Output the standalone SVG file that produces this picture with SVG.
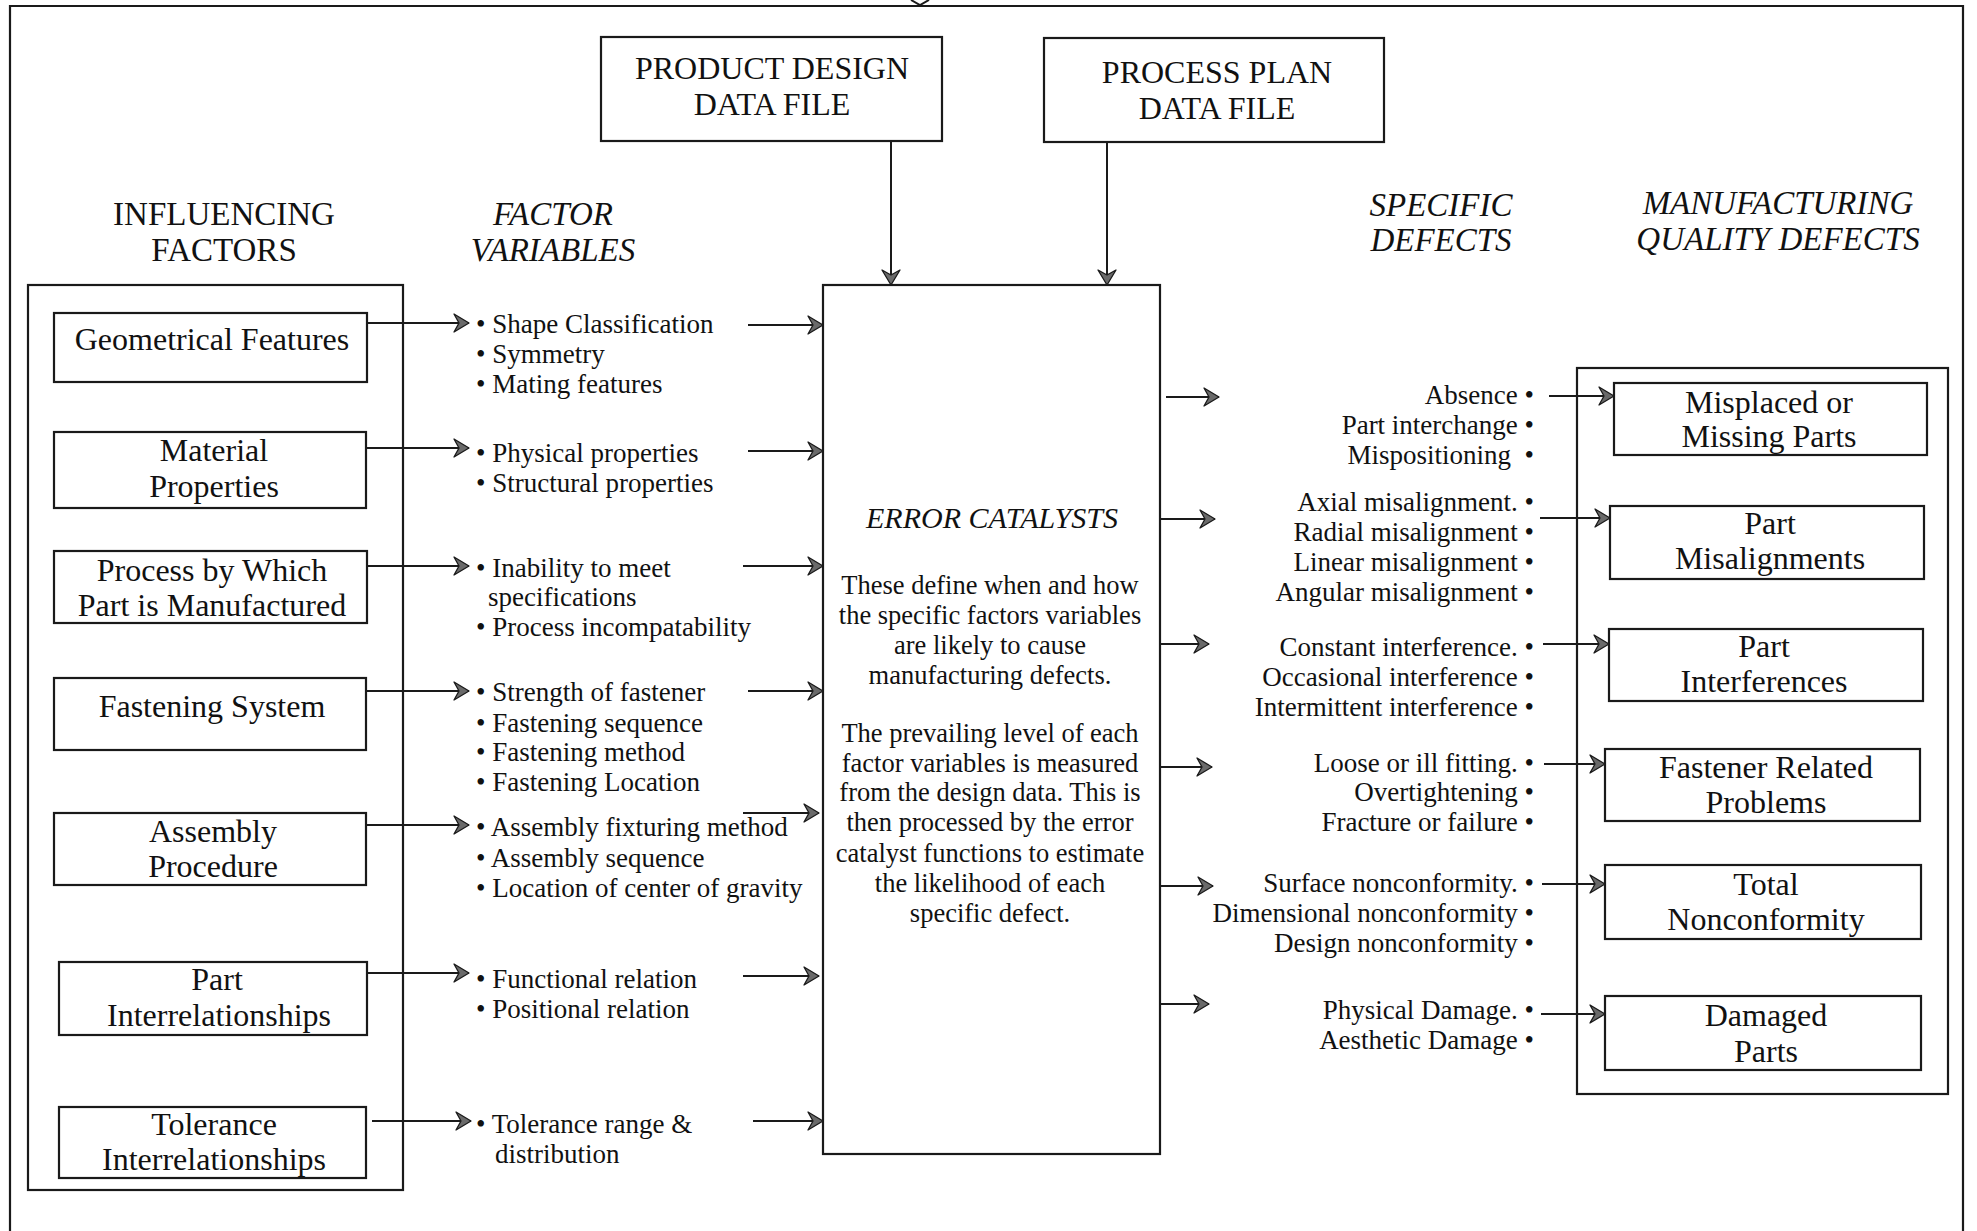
<svg xmlns="http://www.w3.org/2000/svg" width="1977" height="1231" viewBox="0 0 1977 1231">
<defs>
<style>
.box{fill:none;stroke:#1a1a1a;stroke-width:2.2}
.ln{fill:none;stroke:#1a1a1a;stroke-width:2;marker-end:url(#ah)}
text{font-family:"Liberation Serif","Times New Roman",serif;fill:#111}
.hd{font-size:33px;text-anchor:middle}
.hi{font-size:33px;text-anchor:middle;font-style:italic}
.lb{font-size:32px;text-anchor:middle}
.tx{font-size:27px}
.rt{font-size:27px;text-anchor:end;white-space:pre}
.ct{font-size:26.5px;text-anchor:middle}
</style>
<marker id="ah" markerUnits="userSpaceOnUse" markerWidth="20" markerHeight="22" refX="16" refY="10" orient="auto" viewBox="0 0 20 22">
<path d="M1,1 L16,10 L1,19 L6,10 Z" fill="#6a6a6a" stroke="#1a1a1a" stroke-width="1.3" stroke-linejoin="round"/>
</marker>
</defs>
<rect width="1977" height="1231" fill="#fff"/>
<g id="frame">
<path class="box" d="M10,1240 L10,6 L1963,6 L1963,1240"/>
<path d="M911,0 L920,5 L929,0" fill="none" stroke="#1a1a1a" stroke-width="2"/>
</g>
<g id="product-design">
<rect class="box" x="601" y="37" width="341" height="104"/>
<text class="hd" x="772" y="79" style="font-size:32px">PRODUCT DESIGN</text>
<text class="hd" x="772" y="115" style="font-size:32px">DATA FILE</text>
</g>
<g id="process-plan">
<rect class="box" x="1044" y="38" width="340" height="104"/>
<text class="hd" x="1217" y="83" style="font-size:32px">PROCESS PLAN</text>
<text class="hd" x="1217" y="119" style="font-size:32px">DATA FILE</text>
</g>
<g id="headers">
<text class="hd" x="224" y="225">INFLUENCING</text>
<text class="hd" x="224" y="261">FACTORS</text>
<text class="hi" x="553" y="225">FACTOR</text>
<text class="hi" x="553" y="261">VARIABLES</text>
<text class="hi" x="1441" y="216">SPECIFIC</text>
<text class="hi" x="1441" y="251">DEFECTS</text>
<text class="hi" x="1778" y="214">MANUFACTURING</text>
<text class="hi" x="1778" y="250">QUALITY DEFECTS</text>
</g>
<g id="influencing-factors">
<rect class="box" x="28" y="285" width="375" height="905"/>
<g id="geometrical-features"><rect class="box" x="54" y="313" width="313" height="69"/><text class="lb" x="212" y="350">Geometrical Features</text></g>
<g id="material-properties"><rect class="box" x="54" y="432" width="312" height="76"/><text class="lb" x="214" y="461">Material</text><text class="lb" x="214" y="497">Properties</text></g>
<g id="process-by-which"><rect class="box" x="54" y="551" width="313" height="72"/><text class="lb" x="212" y="581">Process by Which</text><text class="lb" x="212" y="616">Part is Manufactured</text></g>
<g id="fastening-system"><rect class="box" x="54" y="678" width="312" height="72"/><text class="lb" x="212" y="717">Fastening System</text></g>
<g id="assembly-procedure"><rect class="box" x="54" y="813" width="312" height="72"/><text class="lb" x="213" y="842">Assembly</text><text class="lb" x="213" y="877">Procedure</text></g>
<g id="part-interrelationships"><rect class="box" x="59" y="962" width="308" height="73"/><text class="lb" x="217" y="990">Part</text><text class="lb" x="219" y="1026">Interrelationships</text></g>
<g id="tolerance-interrelationships"><rect class="box" x="59" y="1107" width="307" height="71"/><text class="lb" x="214" y="1135">Tolerance</text><text class="lb" x="214" y="1170">Interrelationships</text></g>
</g>
<g id="factor-variables">
<text class="tx" x="476" y="333">• Shape Classification</text>
<text class="tx" x="476" y="363">• Symmetry</text>
<text class="tx" x="476" y="393">• Mating features</text>
<text class="tx" x="476" y="462">• Physical properties</text>
<text class="tx" x="476" y="492">• Structural properties</text>
<text class="tx" x="476" y="577">• Inability to meet</text>
<text class="tx" x="488" y="606">specifications</text>
<text class="tx" x="476" y="636">• Process incompatability</text>
<text class="tx" x="476" y="701">• Strength of fastener</text>
<text class="tx" x="476" y="732">• Fastening sequence</text>
<text class="tx" x="476" y="761">• Fastening method</text>
<text class="tx" x="476" y="791">• Fastening Location</text>
<text class="tx" x="476" y="836">• Assembly fixturing method</text>
<text class="tx" x="476" y="867">• Assembly sequence</text>
<text class="tx" x="476" y="897">• Location of center of gravity</text>
<text class="tx" x="476" y="988">• Functional relation</text>
<text class="tx" x="476" y="1018">• Positional relation</text>
<text class="tx" x="476" y="1133">• Tolerance range &amp;</text>
<text class="tx" x="495" y="1163">distribution</text>
</g>
<g id="error-catalysts">
<rect class="box" x="823" y="285" width="337" height="869"/>
<text x="992" y="528" style="font-size:30px;font-style:italic;text-anchor:middle">ERROR CATALYSTS</text>
<text class="ct" x="990" y="594">These define when and how</text>
<text class="ct" x="990" y="624">the specific factors variables</text>
<text class="ct" x="990" y="654">are likely to cause</text>
<text class="ct" x="990" y="684">manufacturing defects.</text>
<text class="ct" x="990" y="742">The prevailing level of each</text>
<text class="ct" x="990" y="772">factor variables is measured</text>
<text class="ct" x="990" y="801">from the design data. This is</text>
<text class="ct" x="990" y="831">then processed by the error</text>
<text class="ct" x="990" y="862">catalyst functions to estimate</text>
<text class="ct" x="990" y="892">the likelihood of each</text>
<text class="ct" x="990" y="922">specific defect.</text>
</g>
<g id="specific-defects">
<text class="rt" x="1534" y="404">Absence •</text>
<text class="rt" x="1534" y="434">Part interchange •</text>
<text class="rt" x="1534" y="464" xml:space="preserve">Mispositioning  •</text>
<text class="rt" x="1534" y="511">Axial misalignment. •</text>
<text class="rt" x="1534" y="541">Radial misalignment •</text>
<text class="rt" x="1534" y="571">Linear misalignment •</text>
<text class="rt" x="1534" y="601">Angular misalignment •</text>
<text class="rt" x="1534" y="656">Constant interference. •</text>
<text class="rt" x="1534" y="686">Occasional interference •</text>
<text class="rt" x="1534" y="716">Intermittent interference •</text>
<text class="rt" x="1534" y="772">Loose or ill fitting. •</text>
<text class="rt" x="1534" y="801">Overtightening •</text>
<text class="rt" x="1534" y="831">Fracture or failure •</text>
<text class="rt" x="1534" y="892">Surface nonconformity. •</text>
<text class="rt" x="1534" y="922">Dimensional nonconformity •</text>
<text class="rt" x="1534" y="952">Design nonconformity •</text>
<text class="rt" x="1534" y="1019">Physical Damage. •</text>
<text class="rt" x="1534" y="1049">Aesthetic Damage •</text>
</g>
<g id="quality-defects">
<rect class="box" x="1577" y="368" width="371" height="726"/>
<g id="misplaced-missing"><rect class="box" x="1614" y="383" width="313" height="72"/><text class="lb" x="1769" y="413">Misplaced or</text><text class="lb" x="1769" y="447">Missing Parts</text></g>
<g id="part-misalignments"><rect class="box" x="1610" y="506" width="314" height="73"/><text class="lb" x="1770" y="534">Part</text><text class="lb" x="1770" y="569">Misalignments</text></g>
<g id="part-interferences"><rect class="box" x="1609" y="629" width="314" height="72"/><text class="lb" x="1764" y="657">Part</text><text class="lb" x="1764" y="692">Interferences</text></g>
<g id="fastener-related"><rect class="box" x="1605" y="749" width="315" height="72"/><text class="lb" x="1766" y="778">Fastener Related</text><text class="lb" x="1766" y="813">Problems</text></g>
<g id="total-nonconformity"><rect class="box" x="1605" y="865" width="316" height="74"/><text class="lb" x="1766" y="895">Total</text><text class="lb" x="1766" y="930">Nonconformity</text></g>
<g id="damaged-parts"><rect class="box" x="1605" y="996" width="316" height="74"/><text class="lb" x="1766" y="1026">Damaged</text><text class="lb" x="1766" y="1062">Parts</text></g>
</g>
<g id="connectors">
<path class="ln" d="M891,141 V285"/>
<path class="ln" d="M1107,142 V285"/>
<path class="ln" d="M367,323 H469"/>
<path class="ln" d="M366,448 H469"/>
<path class="ln" d="M367,566 H469"/>
<path class="ln" d="M366,691 H469"/>
<path class="ln" d="M366,825 H469"/>
<path class="ln" d="M367,973 H469"/>
<path class="ln" d="M372,1121 H471"/>
<path class="ln" d="M748,325 H823"/>
<path class="ln" d="M748,451 H823"/>
<path class="ln" d="M743,566 H823"/>
<path class="ln" d="M748,691 H823"/>
<path class="ln" d="M743,813 H819"/>
<path class="ln" d="M743,976 H819"/>
<path class="ln" d="M753,1121 H823"/>
<path class="ln" d="M1166,397 H1219"/>
<path class="ln" d="M1160,519 H1215"/>
<path class="ln" d="M1160,644 H1209"/>
<path class="ln" d="M1160,767 H1212"/>
<path class="ln" d="M1160,886 H1213"/>
<path class="ln" d="M1160,1004 H1209"/>
<path class="ln" d="M1549,396 H1614"/>
<path class="ln" d="M1540,518 H1610"/>
<path class="ln" d="M1543,644 H1609"/>
<path class="ln" d="M1544,764 H1605"/>
<path class="ln" d="M1542,884 H1605"/>
<path class="ln" d="M1541,1014 H1605"/>
</g>
</svg>
